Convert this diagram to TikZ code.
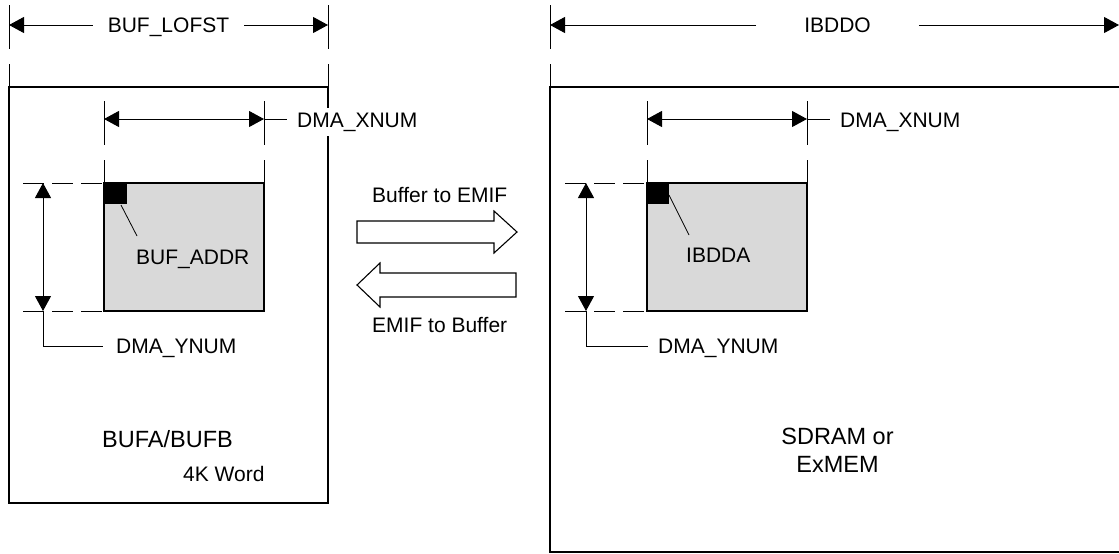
\documentclass[tikz,border=0pt]{standalone}
\usepackage{fontspec}
\setmainfont{Liberation Sans}
\usetikzlibrary{arrows.meta}
\definecolor{winfill}{RGB}{217,217,217}
\begin{document}
\begin{tikzpicture}[x=1pt,y=-1pt,
  txt/.style={inner sep=0pt,font=\fontsize{21}{25}\selectfont},
  big/.style={inner sep=0pt,font=\fontsize{23.5}{28}\selectfont},
  masked/.style={fill=white,inner ysep=5pt},
  dimline/.style={line width=1pt,{Triangle[length=15pt,width=16pt]}-{Triangle[length=15pt,width=16pt]}},
  tipend/.style={line width=1pt,-{Triangle[length=15pt,width=16pt]}},
  plain/.style={line width=1pt},
  extv/.style={line width=1pt,dash pattern=on 44pt off 15pt},
  exth/.style={line width=1pt,dash pattern=on 21pt off 8pt},
  frame/.style={line width=2.5pt},
  win/.style={line width=2pt,fill=winfill},
  lead/.style={line width=0.8pt},
  barrow/.style={line width=1.1pt,fill=white,line join=miter}]
\useasboundingbox (0,0) rectangle (1119,554);
\clip (0,0) rectangle (1119,554);

% ================= LEFT: BUFA/BUFB =================
\draw[frame] (9,87) rectangle (328,503);
\draw[win] (104,183) rectangle (264,311);
\fill (104,183) rectangle (127,204);

% BUF_LOFST dimension
\coordinate (LA) at (9,25);
\coordinate (LB) at (328,25);
\draw[extv] (9,5) -- (9,87);
\draw[extv] (328,5) -- (328,87);
\node[txt,anchor=base] (lofst) at (168.5,32.5) {BUF\_LOFST};
\draw[tipend] ([xshift=-15pt]lofst.west |- LA) -- (LA);
\draw[tipend] ([xshift=15pt]lofst.east |- LB) -- (LB);

% DMA_XNUM (left)
\coordinate (XA) at (104,119);
\coordinate (XB) at (264,119);
\draw[extv] (104,101) -- (104,183);
\draw[extv] (264,101) -- (264,183);
\draw[dimline] (XA) -- (XB);
\node[txt,masked,anchor=base west] (xnumL) at (297,127) {DMA\_XNUM};
\draw[plain] (XB) -- (287,119);

% DMA_YNUM (left)
\coordinate (YA) at (43,183);
\coordinate (YB) at (43,311);
\draw[exth] (23,183) -- (104,183);
\draw[exth] (23,311) -- (104,311);
\draw[dimline] (YA) -- (YB);
\coordinate (YL) at (103,346);
\draw[plain] (YB) |- (YL);
\node[txt,anchor=base west] (ynumL) at (116,353) {DMA\_YNUM};

% BUF_ADDR
\coordinate (BA) at (121,205);
\node[txt,anchor=base west] (bufaddr) at (136,264) {BUF\_ADDR};
\draw[lead] (BA) -- (137,236);

\node[big,anchor=base west] (bufab) at (102,447) {BUFA/BUFB};
\node[txt,anchor=base west] (kword) at (183,481) {4K Word};

% ================= MIDDLE arrows =================
\node[txt,anchor=base west] (b2e) at (372,202) {Buffer to EMIF};
\draw[barrow] (357,221) -- (494,221) -- (494,211) -- (517,232) -- (494,253) -- (494,243) -- (357,243) -- cycle;
\draw[barrow] (516,273) -- (380,273) -- (380,263) -- (357,285) -- (380,307) -- (380,297) -- (516,297) -- cycle;
\node[txt,anchor=base west] (e2b) at (372,332) {EMIF to Buffer};

% ================= RIGHT: SDRAM =================
\draw[frame] (1130,87) -- (550,87) -- (550,552) -- (1130,552);
\draw[win] (647,183) rectangle (807,311);
\fill (647,183) rectangle (669,204);

% IBDDO dimension
\coordinate (RA) at (550,25);
\coordinate (RB) at (1119,25);
\draw[extv] (550,5) -- (550,87);
\node[txt,anchor=base] (ibddo) at (837.5,32.5) {IBDDO};
\draw[tipend] ([xshift=-48pt]ibddo.west |- RA) -- (RA);
\draw[tipend] ([xshift=48pt]ibddo.east |- RB) -- (RB);

% DMA_XNUM (right)
\coordinate (RXA) at (647,119);
\coordinate (RXB) at (807,119);
\draw[extv] (647,101) -- (647,183);
\draw[extv] (807,101) -- (807,183);
\draw[dimline] (RXA) -- (RXB);
\node[txt,anchor=base west] (xnumR) at (840,127) {DMA\_XNUM};
\draw[plain] (RXB) -- (830,119);

% DMA_YNUM (right)
\coordinate (RYA) at (586,183);
\coordinate (RYB) at (586,311);
\draw[exth] (565,183) -- (647,183);
\draw[exth] (565,311) -- (647,311);
\draw[dimline] (RYA) -- (RYB);
\coordinate (RYL) at (648,346);
\draw[plain] (RYB) |- (RYL);
\node[txt,anchor=base west] (ynumR) at (658,353) {DMA\_YNUM};

% IBDDA
\coordinate (IA) at (669,195);
\node[txt,anchor=base west] (ibdda) at (686,262) {IBDDA};
\draw[lead] (IA) -- (689,235);

\node[big,anchor=base] (sdram) at (837.5,444) {SDRAM or};
\node[big,anchor=base] (exmem) at (837.5,472) {ExMEM};
\end{tikzpicture}
\end{document}
